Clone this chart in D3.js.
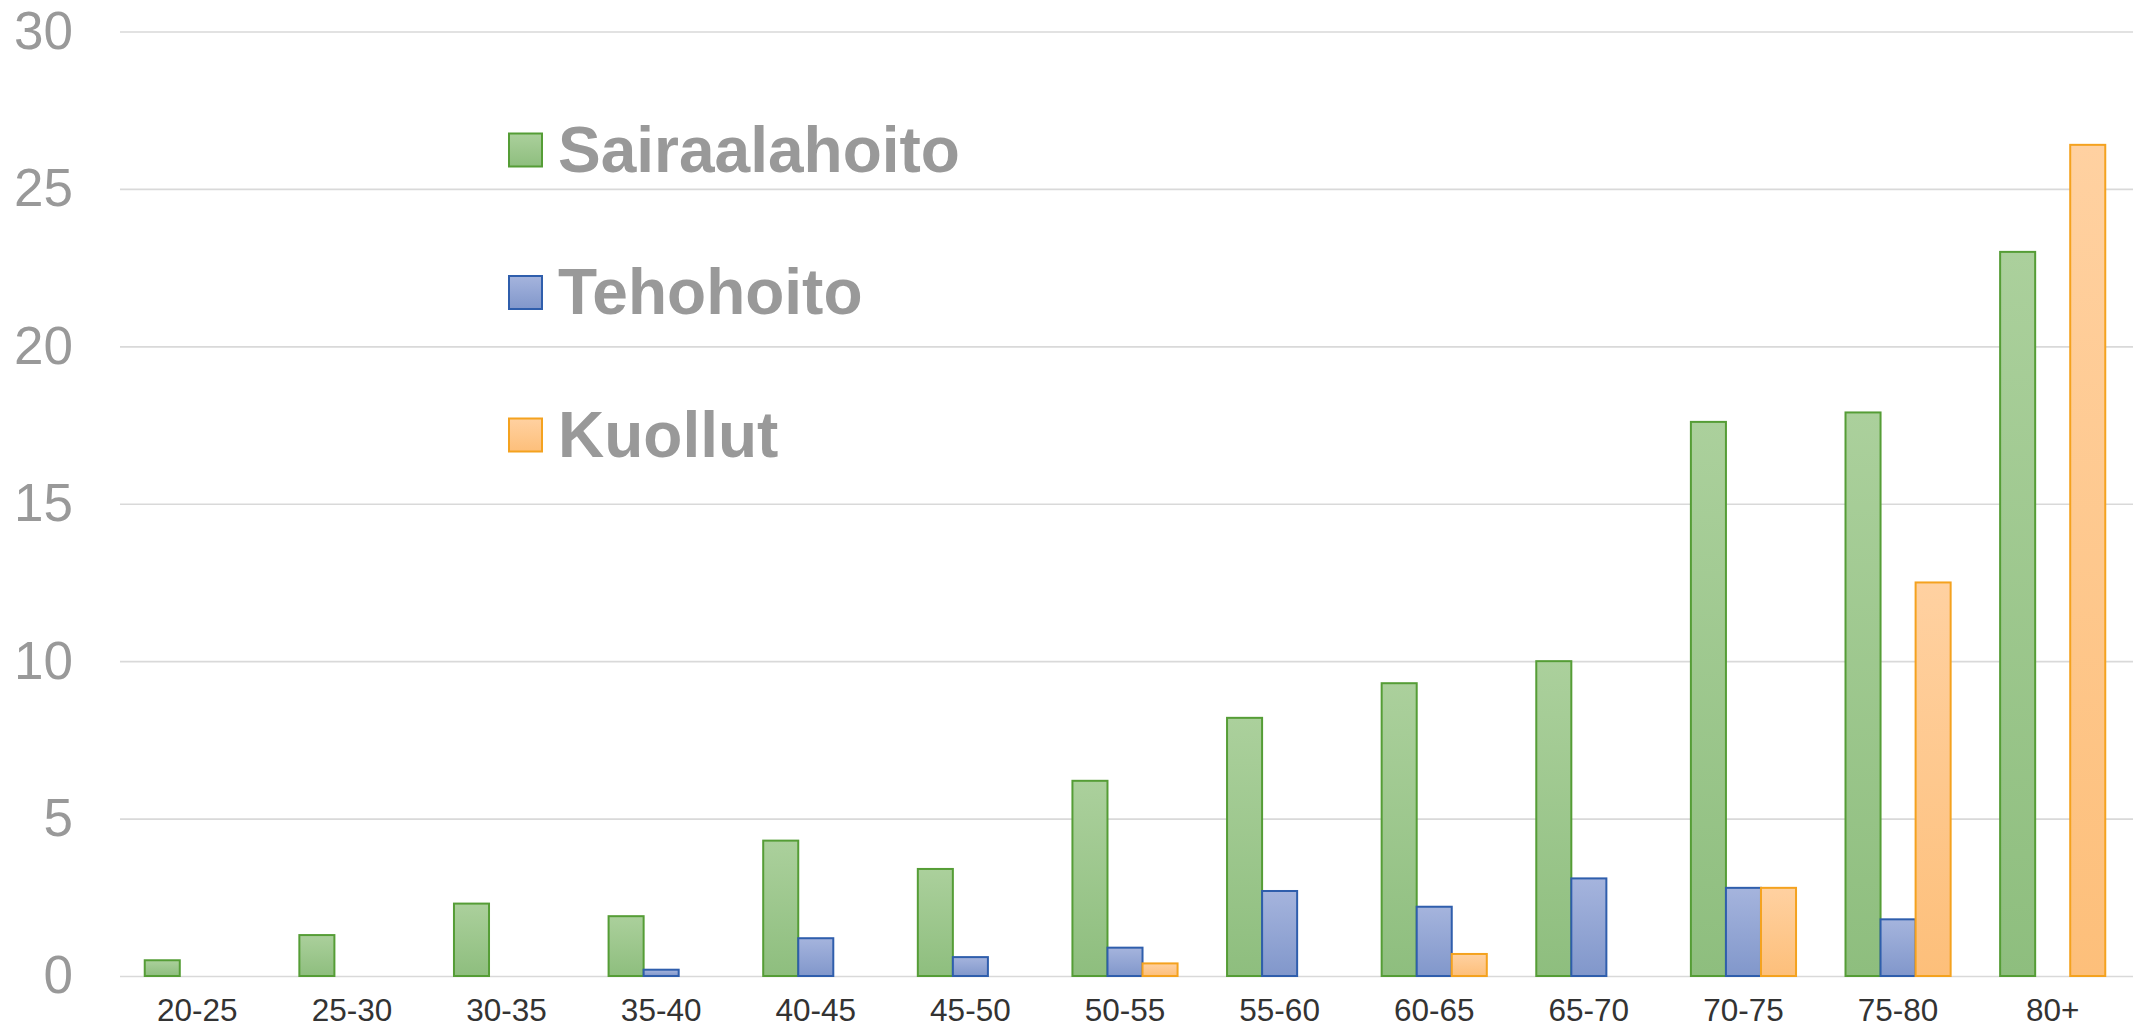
<!DOCTYPE html>
<html>
<head>
<meta charset="utf-8">
<script src="https://cdn.jsdelivr.net/npm/d3@7"></script>
<style>
  html, body { margin: 0; padding: 0; background: #ffffff; }
  svg { display: block; }
</style>
</head>
<body>
<svg id="chart" width="2133" height="1029"></svg>
<script>
// ---- data ----
const categories = ["20-25","25-30","30-35","35-40","40-45","45-50","50-55","55-60","60-65","65-70","70-75","75-80","80+"];
const seriesNames = ["Sairaalahoito","Tehohoito","Kuollut"];
const sairaalahoito = [0.5, 1.3, 2.3, 1.9, 4.3, 3.4, 6.2, 8.2, 9.3, 10.0, 17.6, 17.9, 23.0];
const tehohoito     = [0,   0,   0,   0.2, 1.2, 0.6, 0.9, 2.7, 2.2, 3.1,  2.8,  1.8,  0];
const kuollut       = [0,   0,   0,   0,   0,   0,   0.4, 0,   0.7, 0,    2.8,  12.5, 26.4];
const yTicks = [0, 5, 10, 15, 20, 25, 30];

// ---- styles ----
const seriesStyle = [
  { top: "#abd09c", bottom: "#8ebe7e", stroke: "#559d36" },
  { top: "#a5b4dd", bottom: "#8197cb", stroke: "#2f5eac" },
  { top: "#ffd1a1", bottom: "#fdbf7a", stroke: "#f4a21f" }
];

const W = 2133, H = 1029;
const plotLeft = 120, plotRight = 2130, plotTop = 31.5, plotBottom = 976;

const svg = d3.select("#chart");
const defs = svg.append("defs");
seriesStyle.forEach((s, i) => {
  const g = defs.append("linearGradient").attr("id", "grad" + i)
    .attr("x1", 0).attr("y1", 0).attr("x2", 0).attr("y2", 1);
  g.append("stop").attr("offset", "0%").attr("stop-color", s.top);
  g.append("stop").attr("offset", "100%").attr("stop-color", s.bottom);
});

const y = d3.scaleLinear().domain([0, 30]).range([plotBottom, plotTop]);
const x0 = d3.scaleBand().domain(categories).range([plotLeft, plotRight]).padding(0);
const groupFrac = 0.68;
const x1 = d3.scaleBand().domain(seriesNames)
  .range([x0.bandwidth() * (1 - groupFrac) / 2, x0.bandwidth() * (1 + groupFrac) / 2]).padding(0);

// gridlines + y labels
const yAxis = d3.axisLeft(y).tickValues(yTicks).tickSize(-(W - plotLeft)).tickPadding(47).tickFormat(d3.format("d"));
const gy = svg.append("g").attr("transform", `translate(${plotLeft},0)`).call(yAxis);
gy.select(".domain").remove();
gy.selectAll(".tick line").attr("stroke", "#d9d9d9").attr("stroke-width", 1.6);
gy.selectAll(".tick text")
  .attr("fill", "#999999")
  .style("font-family", "'Liberation Sans', Arial, sans-serif")
  .style("font-size", "53px");

// x labels
const xAxis = d3.axisBottom(x0).tickSize(0).tickPadding(23);
const gx = svg.append("g").attr("transform", `translate(0,${plotBottom})`).call(xAxis);
gx.select(".domain").remove();
gx.selectAll(".tick text")
  .attr("fill", "#333333")
  .style("font-family", "'Liberation Sans', Arial, sans-serif")
  .style("font-size", "31.5px");

// bars
const allSeries = [sairaalahoito, tehohoito, kuollut];
const rows = [];
categories.forEach((c, ci) => {
  allSeries.forEach((arr, si) => {
    if (arr[ci] > 0) rows.push({ cat: c, series: seriesNames[si], si: si, value: arr[ci] });
  });
});

svg.append("g").selectAll("rect").data(rows).join("rect")
  .attr("x", d => x0(d.cat) + x1(d.series))
  .attr("y", d => y(d.value))
  .attr("width", x1.bandwidth())
  .attr("height", d => y(0) - y(d.value))
  .attr("fill", d => `url(#grad${d.si})`)
  .attr("stroke", d => seriesStyle[d.si].stroke)
  .attr("stroke-width", 2);

// legend
const legend = svg.append("g").attr("transform", "translate(509,0)");
const legendY = [150, 292.5, 435];
seriesNames.forEach((name, i) => {
  const g = legend.append("g").attr("transform", `translate(0,${legendY[i]})`);
  g.append("rect").attr("x", 0).attr("y", -16.5).attr("width", 33).attr("height", 33)
    .attr("fill", `url(#grad${i})`).attr("stroke", seriesStyle[i].stroke).attr("stroke-width", 2);
  g.append("text").attr("x", 49).attr("y", 21.5)
    .attr("fill", "#999999")
    .style("font-family", "'Liberation Sans', Arial, sans-serif")
    .style("font-weight", "bold")
    .style("font-size", "64px")
    .text(name);
});
</script>
</body>
</html>
